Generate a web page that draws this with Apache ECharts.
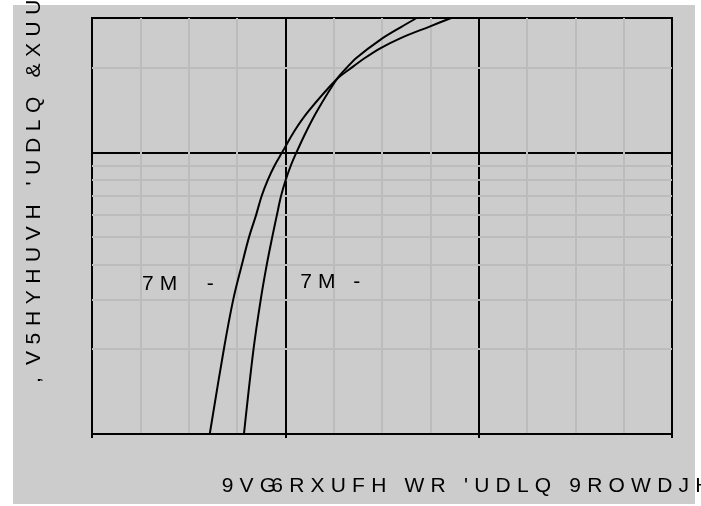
<!DOCTYPE html>
<html><head><meta charset="utf-8">
<script src="https://cdn.jsdelivr.net/npm/echarts@6/dist/echarts.min.js"></script>
<style>html,body{margin:0;padding:0;background:#fff}#c{width:701px;height:506px}</style>
</head><body><div id="c"></div>
<script>
// ---- data ----
const xMin = 0.4, xMax = 1.6, xMajor = 0.4;           // source-to-drain voltage axis
const yMin = 0.1, yMax = 3;                             // reverse drain current axis (log)
const yMinorLines = [0.2, 0.3, 0.4, 0.5, 0.6, 0.7, 0.8, 0.9, 2];

const vsdHot  = [0.6436, 0.6728, 0.6922, 0.7102, 0.7249, 0.7396, 0.7510, 0.7640, 0.7781, 0.7934, 0.8192, 0.8488, 0.9067, 0.9342, 0.9653, 0.9963, 1.0376, 1.0997, 1.1431];
const isHot   = [0.1, 0.2, 0.3, 0.4, 0.5, 0.6, 0.7, 0.8, 0.9, 1.0, 1.194, 1.406, 1.821, 1.981, 2.167, 2.342, 2.541, 2.803, 3.0];
const vsdCold = [0.7144, 0.7342, 0.7491, 0.7617, 0.7729, 0.7826, 0.7911, 0.8010, 0.8116, 0.8230, 0.8441, 0.8660, 0.9067, 0.9260, 0.9481, 0.9963, 1.0376, 1.0718];
const isCold  = [0.1, 0.2, 0.3, 0.4, 0.5, 0.6, 0.7, 0.8, 0.9, 1.0, 1.194, 1.406, 1.821, 1.989, 2.173, 2.510, 2.774, 3.0];

const xTitle = "9VG6RXUFH WR 'UDLQ 9ROWDJH";
const yTitle = ",V5HYHUVH 'UDLQ &XUU";
const labelHot = "7M  -";
const labelCold = "7M -";

// ---- helpers ----
const FONT = '"Liberation Sans", Arial, Helvetica, sans-serif';
const FS = 21;
const mctx = document.createElement('canvas').getContext('2d');
function spaced(str, sp, over) {
  mctx.font = FS + 'px ' + FONT;
  let t = '', rich = {};
  Array.from(str).forEach((ch, i) => {
    const w = (over && over[i] != null) ? over[i] : mctx.measureText(ch).width + sp;
    rich['k' + i] = { width: w, fontSize: FS, fontFamily: FONT, color: '#000', align: 'left', lineHeight: FS + 4 };
    t += '{k' + i + '|' + ch + '}';
  });
  return { text: t, rich: rich };
}
const zip = (a, b) => a.map((v, i) => [v, b[i]]);

const xt = spaced(xTitle, 6.2, { 2: 11.5 });
const yt = spaced(yTitle, 6.6, { 0: 18 });
const lh = spaced(labelHot, 6);
const lc = spaced(labelCold, 6);

const GRAY = '#bcbcbc', BLACK = '#000';
const chart = echarts.init(document.getElementById('c'), null, { renderer: 'canvas' });
chart.setOption({
  animation: false,
  backgroundColor: '#ffffff',
  grid: { left: 92, top: 18, right: 29, bottom: 72, show: true, borderColor: BLACK, borderWidth: 2, backgroundColor: 'transparent', containLabel: false },
  graphic: [
    { type: 'rect', z: -10, silent: true, shape: { x: 13, y: 5, width: 682, height: 499 }, style: { fill: '#cccccc' } },
    { type: 'text', z: 10, x: 221.7, y: 486, style: { text: xt.text, rich: xt.rich, align: 'left', verticalAlign: 'middle', textAlign: 'left', textVerticalAlign: 'middle' } },
    { type: 'text', z: 10, x: 34, y: 383, rotation: Math.PI / 2, style: { text: yt.text, rich: yt.rich, align: 'left', verticalAlign: 'middle', textAlign: 'left', textVerticalAlign: 'middle' } }
  ],
  xAxis: {
    type: 'value', min: xMin, max: xMax, interval: xMajor,
    axisLabel: { show: false },
    axisLine: { show: true, onZero: false, lineStyle: { color: BLACK, width: 2 } },
    axisTick: { show: true, inside: false, length: 4, lineStyle: { color: BLACK, width: 2 } },
    splitLine: { show: true, lineStyle: { color: BLACK, width: 2 } },
    minorTick: { show: false, splitNumber: 4 },
    minorSplitLine: { show: true, lineStyle: { color: GRAY, width: 2 } }
  },
  yAxis: {
    type: 'log', logBase: 10, min: yMin, max: yMax,
    axisLabel: { show: false },
    axisLine: { show: true, lineStyle: { color: BLACK, width: 2 } },
    axisTick: { show: false },
    splitLine: { show: true, lineStyle: { color: BLACK, width: 2 } },
    minorSplitLine: { show: false }
  },
  series: [
    {
      type: 'line', name: 'gridlines', data: [], z: 1, silent: true,
      markLine: {
        silent: true, symbol: ['none', 'none'], label: { show: false },
        lineStyle: { color: GRAY, width: 2, type: 'solid' },
        emphasis: { disabled: true },
        data: yMinorLines.map(v => ({ yAxis: v }))
      },
      markPoint: {
        silent: true, symbol: 'circle', symbolSize: 0,
        data: [
          { coord: [0.5034, 0.3396], label: { show: true, position: 'right', distance: 0, formatter: lh.text, rich: lh.rich } },
          { coord: [0.8308, 0.3451], label: { show: true, position: 'right', distance: 0, formatter: lc.text, rich: lc.rich } }
        ]
      }
    },
    {
      type: 'line', name: 'hot', data: zip(vsdHot, isHot), z: 5, showSymbol: false, smooth: 0.35,
      lineStyle: { color: BLACK, width: 2 }, silent: true
    },
    {
      type: 'line', name: 'cold', data: zip(vsdCold, isCold), z: 5, showSymbol: false, smooth: 0.35,
      lineStyle: { color: BLACK, width: 2 }, silent: true
    }
  ]
});
</script>
</body></html>
